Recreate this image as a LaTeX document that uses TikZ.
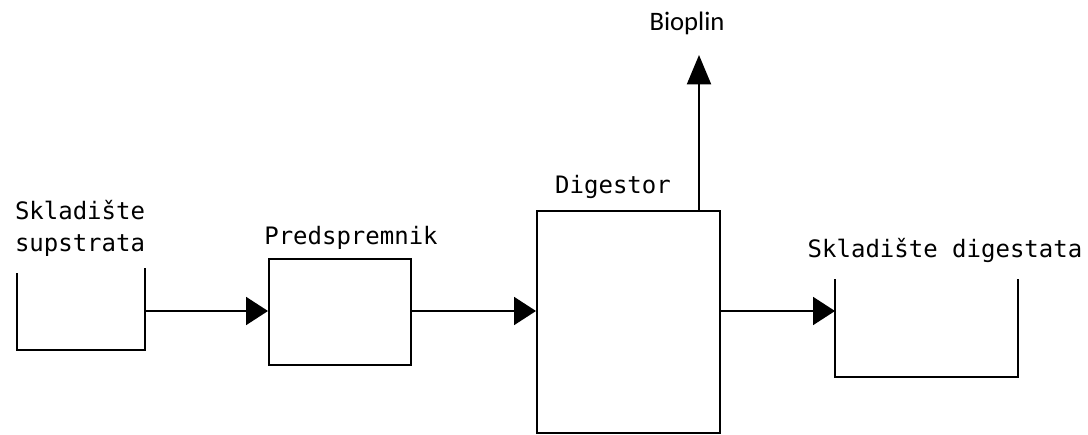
\documentclass[tikz,border=0pt]{standalone}
\usepackage{fontspec}
\setmainfont{DejaVu Sans Mono}
\newfontfamily\labelfont{Carlito}
\usetikzlibrary{arrows.meta}
\begin{document}
\begin{tikzpicture}[x=0.75pt,y=-0.75pt,
  line width=1.5pt,
  flow/.style={-{Triangle[length=16.5pt,width=21pt]}},
  upflow/.style={-{Triangle[length=22pt,width=18pt]}},
  unit/.style={draw,rectangle,inner sep=0pt},
  txt/.style={font=\fontsize{18}{24}\selectfont,inner sep=0pt},
]
\useasboundingbox (0,0) rectangle (1088,435);
% left storage tank (open)
\coordinate (t1a) at (17,273);
\coordinate (t1b) at (17,350);
\coordinate (t1c) at (145,350);
\coordinate (t1d) at (145,268);
\coordinate (t1out) at (145,311);
\draw (t1a) -- (t1b) -- (t1c) -- (t1d);
\node[txt,anchor=west,align=left] (lbl1) at (14,228) {Skladište\\supstrata};
% pre-storage
\node[unit,minimum width=106.5pt,minimum height=79.5pt] (pre) at (340,311.5) {};
\node[txt] (lbl2) at (351,238) {Predspremnik};
% digester
\node[unit,minimum width=137.25pt,minimum height=166.5pt] (dig) at (628.5,322) {};
\node[txt] (lbl3) at (613,187) {Digestor};
% right storage tank (open)
\coordinate (t2a) at (835,279);
\coordinate (t2b) at (835,377);
\coordinate (t2c) at (1018,377);
\coordinate (t2d) at (1018,279);
\coordinate (t2in) at (835,311);
\draw (t2a) -- (t2b) -- (t2c) -- (t2d);
\node[txt] (lbl4) at (945,250) {Skladište digestata};
% biogas
\coordinate (gasout) at (699,211);
\coordinate (gastip) at (699,55);
\node[font=\labelfont\fontsize{20}{24}\selectfont,inner sep=0pt] (gas) at (687,23) {Bioplin};
% connectors
\draw[flow] (t1out) -- (t1out -| pre.west);
\draw[flow] (pre.east |- t1out) -- (t1out -| dig.west);
\draw[flow] (t2in -| dig.east) -- (t2in);
\draw[upflow] (gasout) -- (gastip);
\end{tikzpicture}
\end{document}
